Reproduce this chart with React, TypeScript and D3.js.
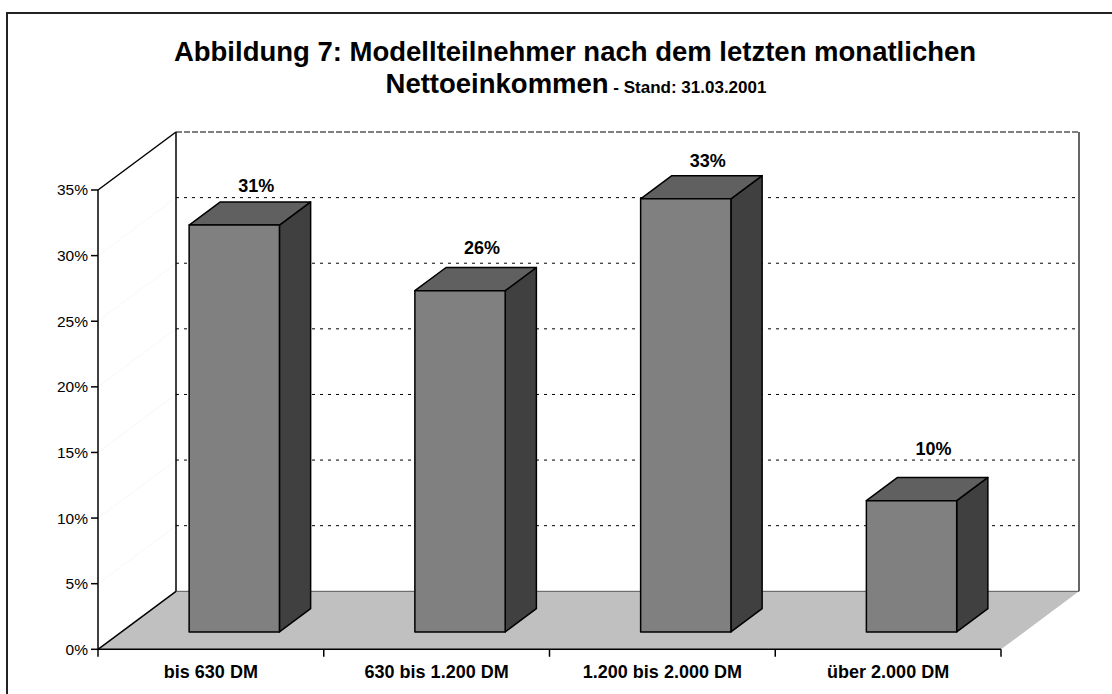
import * as d3 from 'd3';

const categories = ['bis 630 DM', '630 bis 1.200 DM', '1.200 bis 2.000 DM', 'über 2.000 DM'];
const values = [31, 26, 33, 10];
const valueLabels = ['31%', '26%', '33%', '10%'];
const yTicks = [0, 5, 10, 15, 20, 25, 30, 35];

const width = 1112;
const height = 694;
const font = "'Liberation Sans', Arial, sans-serif";

// plot frame (front plane of floor / left wall)
const plotLeft = 98;
const plotRight = 1001;
const plotBottom = 649.3;
const plotTop = 190;
// full depth of the 3d box
const depthX = 78;
const depthY = 58;
// bars sit between these depth fractions
const barFront = 0.3;
const barBack = 0.7;

const App = () => {
    const x = d3.scaleBand<string>().domain(categories).range([plotLeft, plotRight]);
    const y = d3.scaleLinear().domain([0, 35]).range([plotBottom, plotTop]);
    // data labels float on their own plane
    const yLabel = d3.scaleLinear().domain([0, 35]).range([580.2, 141.6]);

    const p = (px: number, v: number, f: number): [number, number] => [px + depthX * f, y(v) - depthY * f];
    const pts = (arr: [number, number][]) => arr.map(a => a.join(',')).join(' ');

    const bw = x.bandwidth() * 0.4;

    // back wall gridlines
    const grid = yTicks.filter(t => t > 0).map(t => {
        const [x1, y1] = p(plotLeft, t, 1);
        const [x2] = p(plotRight, t, 1);
        return (
            <line key={'g' + t} x1={x1} x2={x2} y1={y1} y2={y1} stroke="#000" strokeWidth={1}
                strokeDasharray={t === 35 ? '6 2' : '3 5'} />
        );
    });

    // faint gridlines on the left wall
    const sideGrid = yTicks.filter(t => t > 0 && t < 35).map(t => {
        const [x1, y1] = p(plotLeft, t, 0);
        const [x2, y2] = p(plotLeft, t, 1);
        return <line key={'s' + t} x1={x1} y1={y1} x2={x2} y2={y2} stroke="#f7f7f7" strokeWidth={1} />;
    });

    const bars = categories.map((c, i) => {
        const cx = (x(c) || 0) + x.bandwidth() / 2;
        const xl = cx - bw / 2;
        const xr = cx + bw / 2;
        const v = values[i];
        const fl = p(xl, 0, barFront);
        const fr = p(xr, 0, barFront);
        const tl = p(xl, v, barFront);
        const tr = p(xr, v, barFront);
        const d = barBack - barFront;
        const off = (q: [number, number]): [number, number] => [q[0] + depthX * d, q[1] - depthY * d];
        return (
            <g key={c} stroke="#000" strokeWidth={1.5} strokeLinejoin="round">
                <polygon points={pts([tr, off(tr), off(fr), fr])} fill="#404040" />
                <polygon points={pts([tl, off(tl), off(tr), tr])} fill="#606060" />
                <polygon points={pts([tl, tr, fr, fl])} fill="#808080" />
            </g>
        );
    });

    const labels = categories.map((c, i) => {
        const cx = (x(c) || 0) + x.bandwidth() / 2 + depthX * barFront + 22;
        return (
            <text key={'l' + c} x={cx} y={yLabel(values[i])} textAnchor="middle"
                style={{ font: `bold 18px ${font}`, fill: '#000' }}>
                {valueLabels[i]}
            </text>
        );
    });

    const [bl0x, bl0y] = p(plotLeft, 0, 1);
    const [br0x] = p(plotRight, 0, 1);
    const [bl35x, bl35y] = p(plotLeft, 35, 1);

    const catTicks = [...categories.map(c => x(c) || 0), plotRight];

    return (
        <svg width={width} height={height} style={{ position: 'absolute', left: 0, top: 0, background: '#fff' }}>
            <rect x={7} y={13} width={1300} height={900} fill="#fff" stroke="#222" strokeWidth={2} />

            <g style={{ font: `bold 27.5px ${font}` }} textAnchor="middle">
                <text x={575} y={61}>Abbildung 7: Modellteilnehmer nach dem letzten monatlichen</text>
                <text x={576} y={93}>Nettoeinkommen<tspan style={{ font: `bold 17px ${font}` }}> - Stand: 31.03.2001</tspan></text>
            </g>

            {/* floor */}
            <polygon points={pts([p(plotLeft, 0, 0), p(plotRight, 0, 0), p(plotRight, 0, 1), p(plotLeft, 0, 1)])} fill="#c0c0c0" />
            {sideGrid}
            {grid}
            <line x1={bl0x} x2={br0x} y1={bl0y} y2={bl0y} stroke="#555" strokeWidth={1} />
            <line x1={br0x} x2={br0x} y1={bl35y} y2={bl0y} stroke="#333" strokeWidth={1.5} />
            <line x1={bl35x} x2={bl35x} y1={bl35y} y2={bl0y} stroke="#000" strokeWidth={1.5} />
            <line x1={plotLeft} y1={y(35)} x2={bl35x} y2={bl35y} stroke="#000" strokeWidth={1.5} />
            <line x1={plotLeft} y1={plotBottom} x2={bl0x} y2={bl0y} stroke="#000" strokeWidth={1.5} />

            {bars}
            {labels}

            {/* y axis */}
            <line x1={plotLeft} x2={plotLeft} y1={y(35)} y2={plotBottom} stroke="#000" strokeWidth={1.5} />
            {yTicks.map(t => (
                <g key={'y' + t} transform={`translate(${plotLeft}, ${y(t)})`}>
                    <line x1={-7} x2={0} stroke="#000" strokeWidth={1.5} />
                    <text x={-10} dy="0.35em" textAnchor="end" style={{ font: `15.5px ${font}`, fill: '#000' }}>{t}%</text>
                </g>
            ))}

            {/* x axis */}
            <line x1={plotLeft} x2={plotRight} y1={plotBottom} y2={plotBottom} stroke="#000" strokeWidth={1.5} />
            {catTicks.map((t, i) => (
                <line key={'t' + i} x1={t} x2={t} y1={plotBottom} y2={plotBottom + 7.5} stroke="#000" strokeWidth={1.5} />
            ))}
            {categories.map(c => (
                <text key={'c' + c} x={(x(c) || 0) + x.bandwidth() / 2} y={678} textAnchor="middle"
                    style={{ font: `bold 18px ${font}`, fill: '#000' }}>
                    {c}
                </text>
            ))}
        </svg>
    );
};

export default App;
